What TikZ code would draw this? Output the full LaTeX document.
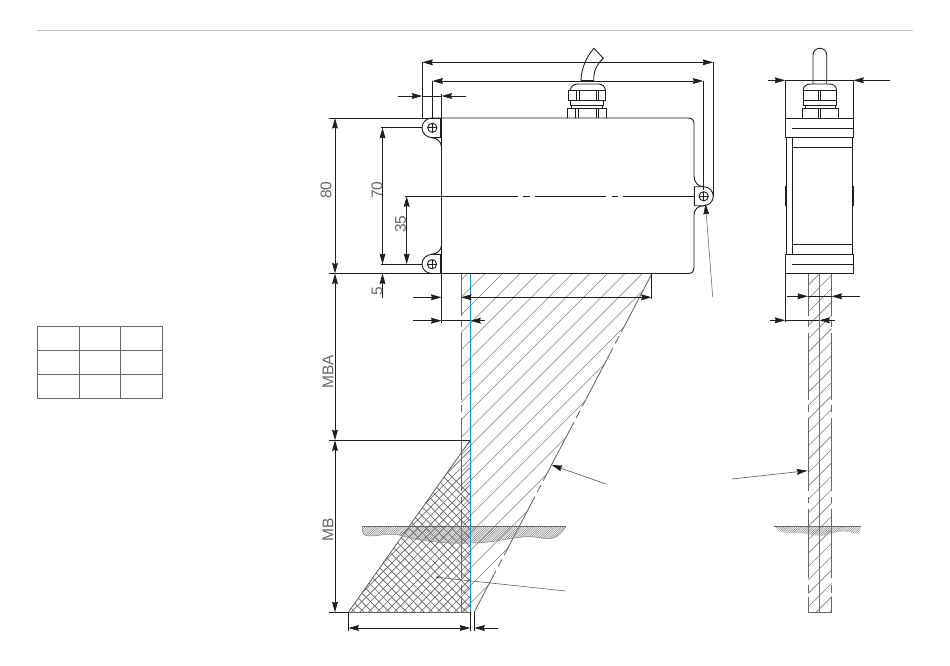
\documentclass[tikz,border=0pt]{standalone}
\usepackage{fontspec}
\setmainfont{Liberation Sans}
\usetikzlibrary{arrows.meta}
\definecolor{inkc}{HTML}{1E1E1E}
\definecolor{greyc}{HTML}{666666}
\definecolor{hatchc}{HTML}{808080}
\definecolor{bluec}{HTML}{1C8FC4}
\tikzset{
  ln/.style={draw=inkc,line width=0.9pt},
  thick ln/.style={draw=inkc,line width=1.4pt},
  dim/.style={draw=inkc,line width=0.85pt},
  dimboth/.style={dim,{Stealth[length=10.5pt,width=5.8pt,inset=1pt]}-{Stealth[length=10.5pt,width=5.8pt,inset=1pt]}},
  dimend/.style={dim,-{Stealth[length=10.5pt,width=5.8pt,inset=1pt]}},
  leaderend/.style={draw=greyc,line width=0.7pt,-{Stealth[length=10.5pt,width=5.8pt,inset=1pt,color=inkc]}},
  hatchl/.style={draw=hatchc,line width=0.6pt},
  edgel/.style={draw=greyc,line width=0.85pt},
  bluel/.style={draw=bluec,line width=1.05pt},
  lab/.style={text=greyc,font=\fontsize{15.5}{15.5}\selectfont,rotate=90,inner sep=0pt},
  tablel/.style={draw=greyc,line width=0.8pt}
}
\begin{document}
\begin{tikzpicture}[x=1pt,y=-1pt]
\useasboundingbox (0,0) rectangle (950,665);
\fill[white] (0,0) rectangle (950,665);
% header rule
\draw[draw=black!25,line width=0.7pt] (37,30) -- (913,30);
% table
\draw[tablel] (37.5,326) rectangle (162.5,398);
\draw[tablel] (79.5,326) -- (79.5,398) (120,326) -- (120,398) (37.5,350) -- (162.5,350) (37.5,374) -- (162.5,374);

% ---------- front view: hatched zone
\begin{scope}
\clip (461,273.5) -- (652,273.5) -- (474.3,612) -- (461,612) -- cycle;
\foreach \c in {723.5,741,758.5,776,793.5,811,828.5,846,863.5,881,898.5,916,933.5,951,968.5,986,1003.5,1021,1038.5,1056,1073.5,1091}
  \draw[hatchl] ({\c-200},200) -- ({\c-700},700);
\end{scope}
% cross hatch
\begin{scope}
\clip (348.3,612.3) -- (470.3,440) -- (470.3,612.3) -- cycle;
\foreach \c in {0,...,32}
  \draw[draw=greyc,line width=0.65pt] ({800+\c*8.6-300},300) -- ({800+\c*8.6-700},700);
\foreach \c in {0,...,32}
  \draw[draw=greyc,line width=0.65pt] ({-300+\c*8.6+400},400) -- ({-300+\c*8.6+700},700);
\end{scope}
\draw[edgel] (348.3,612.3) -- (470.3,440);
\draw[edgel] (348.3,612.3) -- (470.3,612.3);
\draw[edgel,dash pattern=on 66pt off 5pt on 8pt off 5pt] (652,273.5) -- (474.3,612);
\foreach \a/\b in {273.5/316,321/327,333/400,405/412,418/491,497/503,509/578,585/593,597/612}
  \draw[edgel] (461,\a) -- (461,\b);
% ground front
\begin{scope}
\clip (362.3,526.7) -- (565.7,526.7) .. controls (562,532) and (558,538) .. (550,538.5)
  .. controls (540,539) and (535,535.5) .. (522,537) .. controls (505,539) and (490,543) .. (470,543)
  .. controls (445,544) and (420,541) .. (403,536) .. controls (390,532) and (380,536) .. (370,536)
  .. controls (364,536) and (362,534) .. (362.3,526.7) -- cycle;
\foreach \c in {0,...,130}
  \draw[draw=hatchc,line width=0.5pt] ({870+\c*2.2},0) -- ({870+\c*2.2-700},700);
\end{scope}
\draw[edgel] (362.3,526.7) -- (565.7,526.7);
\draw[draw=hatchc,line width=0.5pt] (565.7,526.7) .. controls (562,532) and (558,538) .. (550,538.5)
  .. controls (540,539) and (535,535.5) .. (522,537) .. controls (505,539) and (490,543) .. (470,543)
  .. controls (445,544) and (420,541) .. (403,536) .. controls (390,532) and (380,536) .. (370,536)
  .. controls (364,536) and (362,534) .. (362.3,526.7);
\draw[bluel] (470.3,273.5) -- (470.3,612.3);

% ---------- front view: housing
\draw[ln] (441.5,118) -- (688,118) .. controls (692,118) and (694,120) .. (694,124) -- (694,176)
  .. controls (694,182) and (698,186.7) .. (703.5,186.7);
\draw[ln] (703.5,205.7) .. controls (698,205.7) and (694,209.5) .. (694,215) -- (694,267)
  .. controls (694,271.5) and (692,273.5) .. (688,273.5) -- (329,273.5);
\draw[draw=inkc,line width=1.1pt] (441.5,118) -- (441.5,273.5);
\draw[draw=inkc,line width=1.6pt] (461,273.5) -- (652,273.5);
% lugs
\draw[ln] (441.5,118) -- (432,118) .. controls (426.6,118) and (422,122.4) .. (422,127.8)
  .. controls (422,133.2) and (426.6,137.6) .. (432,137.6) -- (441.5,137.6);
\draw[ln] (431,137.6) .. controls (436,137.6) and (441.5,141) .. (441.5,147);
\draw[ln] (441.5,254.3) -- (432,254.3) .. controls (426.6,254.3) and (422,258.9) .. (422,264.2)
  .. controls (422,269.6) and (426.6,273.5) .. (432,273.5);
\draw[ln] (431,254.3) .. controls (436,254.3) and (441.5,251) .. (441.5,245);
\draw[draw=inkc,line width=1.7pt] (441.3,118) -- (441.3,137.6) (441.3,254.3) -- (441.3,273.5);
\draw[ln] (703.5,186.7) -- (694.3,186.7) -- (694.3,205.7) -- (703.5,205.7)
  .. controls (709,205.7) and (713.3,201.5) .. (713.3,196.2) .. controls (713.3,191) and (709,186.7) .. (703.5,186.7);
\foreach \x/\y in {432.3/127.8,432/264.2,703.7/196.3}{
  \draw[ln] (\x,\y) circle[radius=4.6];
  \draw[ln] ({\x-4.6},\y) -- ({\x+4.6},\y) (\x,{\y-4.6}) -- (\x,{\y+4.6});
}
% centre line
\foreach \a/\b in {405/518,523.3/530.3,535/606,611.7/618,623/694}
  \draw[ln] (\a,196.3) -- (\b,196.3);
% gland front
\draw[ln] (594,48.3) .. controls (587,56) and (581,68) .. (581,81);
\draw[ln] (594,48.3) -- (603.3,58.3);
\draw[ln] (603.3,58.3) .. controls (596,65) and (593.5,72) .. (593.7,81);
\draw[draw=inkc,line width=1.6pt] (581,81.2) -- (593.7,81.2);
\draw[ln] (570,90.5) .. controls (571,86) and (574,84) .. (578,84) -- (598,84) .. controls (602,84) and (605,86) .. (605.5,90.5);
\draw[ln] (568.4,90.5) rectangle (605.7,100.7);
\draw[ln] (570.2,100.7) rectangle (603.6,105);
\draw[ln] (571.5,105) -- (571.5,108) (602.5,105) -- (602.5,108);
\draw[ln] (567.3,108) -- (606.7,108) (567.3,108) -- (567.3,118) (606.7,108) -- (606.7,118);
\draw[ln] (576.7,90.5) -- (576.7,100.7) (579,90.5) -- (579,100.7) (596,90.5) -- (596,100.7) (598.7,90.5) -- (598.7,100.7);
\draw[ln] (575.7,108) -- (575.7,118) (578,108) -- (578,118) (596.3,108) -- (596.3,118) (598.3,108) -- (598.3,118);

% ---------- front view: dimensions
\draw[ln] (422.3,62.3) -- (422.3,118) (432.3,81) -- (432.3,118) (441.5,94) -- (441.5,118);
\draw[ln] (713.3,62.3) -- (713.3,196) (703.3,81) -- (703.3,190);
\draw[dimboth] (422.3,62.3) -- (713.3,62.3);
\draw[dimboth] (432.3,81) -- (703.3,81);
\draw[dimend] (398,96) -- (422.3,96);
\draw[dimend] (466,96) -- (441.5,96);
\draw[ln] (422.3,96) -- (441.5,96);
\draw[ln] (329,118) -- (441.5,118);
\draw[ln] (380.5,127.8) -- (422,127.8) (380.5,264.2) -- (422,264.2);
\draw[ln] (329,440.3) -- (470.3,440.3);
\draw[ln] (329,612.3) -- (348.3,612.3);
\draw[dimboth] (335,118) -- (335,273.5);
\draw[dimboth] (335,273.5) -- (335,440.3);
\draw[dimboth] (335,440.3) -- (335,612.3);
\draw[dimboth] (382.5,127.8) -- (382.5,264.2);
\draw[dimboth] (406.7,196.3) -- (406.7,264.2);
\draw[dimend] (382.5,298) -- (382.5,273.5);
% bottom zone dims
\draw[ln] (441.5,273.5) -- (441.5,322.5) (651.7,273.5) -- (651.7,299);
\draw[dimend] (413,297.3) -- (441.5,297.3);
\draw[dimboth] (461,297.3) -- (651.7,297.3);
\draw[dimend] (413,320.7) -- (441.5,320.7);
\draw[dimend] (485,320.7) -- (470.3,320.7);
\draw[ln] (441.5,320.7) -- (470.3,320.7);
\draw[ln] (348.3,612.3) -- (348.3,631) (470.3,612.3) -- (470.3,631) (474.3,612.3) -- (474.3,631);
\draw[dimboth] (348.3,628) -- (470.3,628);
\draw[dimend] (498,628) -- (474.3,628);

% labels
\node[lab] (l80) at (326,190) {80};
\node[lab] (l70) at (377,190) {70};
\node[lab] (l35) at (400.5,224) {35};
\node[lab] (l5) at (377,291.5) {5};
\node[lab] (lmba) at (328,372) {MBA};
\node[lab] (lmb) at (328,530) {MB};

% leaders
\draw[leaderend,line width=0.55pt] (712.7,297) -- (705.5,204);
\draw[leaderend] (606,484) -- (551.7,465);
\draw[leaderend] (731.7,479) -- (807.3,470.7);
\draw[draw=greyc,line width=0.6pt] (565.7,591) -- (437.3,577.3);
\fill[inkc] (437.3,577.3) circle[radius=1.1];

% ---------- side view: hatched strip
\begin{scope}
\clip (808.3,273.3) rectangle (831.7,612.3);
\foreach \c in {0,...,30}
  \draw[hatchl] ({1080+\c*13.4},0) -- ({1080+\c*13.4-700},700);
\end{scope}
\foreach \x in {808.3,831.7}{
  \foreach \a/\b in {273.3/316,321/327,333/400,405/412,418/491,497/503,509/578,585/593,597/612.3}
    \draw[edgel] (\x,\a) -- (\x,\b);
}
\draw[edgel] (808.3,612.3) -- (831.7,612.3);
\begin{scope}
\clip (774.3,526.3) -- (860.7,526.3) .. controls (860,532) and (857,535) .. (852,533)
  .. controls (845,530) and (835,532) .. (825,535.5) .. controls (815,537) and (805,532) .. (790,533)
  .. controls (783,533) and (778,531) .. (774.3,526.3) -- cycle;
\foreach \c in {0,...,60}
  \draw[draw=hatchc,line width=0.5pt] ({1280+\c*2.2},0) -- ({1280+\c*2.2-700},700);
\end{scope}
\draw[edgel] (774.3,526.3) -- (860.7,526.3);
\draw[bluel] (819.3,273.3) -- (819.3,612.3);

% ---------- side view: housing
\draw[ln] (785.3,118) rectangle (853.3,137.3);
\draw[ln] (792,128.3) -- (853.3,128.3);
\draw[ln] (785.3,254) rectangle (853.3,273.3);
\draw[ln] (792,264.3) -- (853.3,264.3);
\draw[ln] (786.3,137.3) -- (786.3,254) (852.3,137.3) -- (852.3,254) (792.3,137.3) -- (792.3,254);
\draw[ln] (792.3,147.3) -- (852.3,147.3) (792.3,244) -- (852.3,244);
\draw[thick ln] (785.6,185.7) -- (785.6,206) (853,185.7) -- (853,206);
\draw[draw=inkc,line width=1.4pt] (808.3,273.6) -- (831.7,273.6);
% side gland
\draw[ln] (813,84) -- (813,55 ) .. controls (813,51) and (816,48.3) .. (819.8,48.3) .. controls (823.6,48.3) and (826.7,51) .. (826.7,55) -- (826.7,84);
\draw[ln] (803,90.7) .. controls (803.5,86) and (806,84) .. (811,84) -- (829,84) .. controls (834,84) and (836.2,86) .. (836.7,90.7);
\draw[ln] (803,90.7) rectangle (836.7,100.7);
\draw[ln] (803.7,100.7) rectangle (836.3,105.3);
\draw[ln] (805,105.3) -- (805,108.3) (835,105.3) -- (835,108.3);
\draw[ln] (802,108.3) -- (838,108.3) (802,108.3) -- (802,118) (838,108.3) -- (838,118);
\draw[ln] (818.7,90.7) -- (818.7,100.7) (820.7,90.7) -- (820.7,100.7) (818.7,108.3) -- (818.7,118) (820.7,108.3) -- (820.7,118);
% side dims
\draw[ln] (785.3,80.3) -- (785.3,118) (853.3,80.3) -- (853.3,118);
\draw[dimend] (768,80.3) -- (785.3,80.3);
\draw[dimend] (890,80.3) -- (853.3,80.3);
\draw[ln] (785.3,80.3) -- (853.3,80.3);
\draw[ln] (785.3,273.3) -- (785.3,322);
\draw[dimend] (787,296.3) -- (808,296.3);
\draw[dimend] (860,296.3) -- (831.5,296.3);
\draw[ln] (808,296.3) -- (831.5,296.3);
\draw[dimend] (770,320.3) -- (785.3,320.3);
\draw[dimend] (835,320.3) -- (819.3,320.3);
\draw[ln] (785.3,320.3) -- (819.3,320.3);
\end{tikzpicture}
\end{document}
